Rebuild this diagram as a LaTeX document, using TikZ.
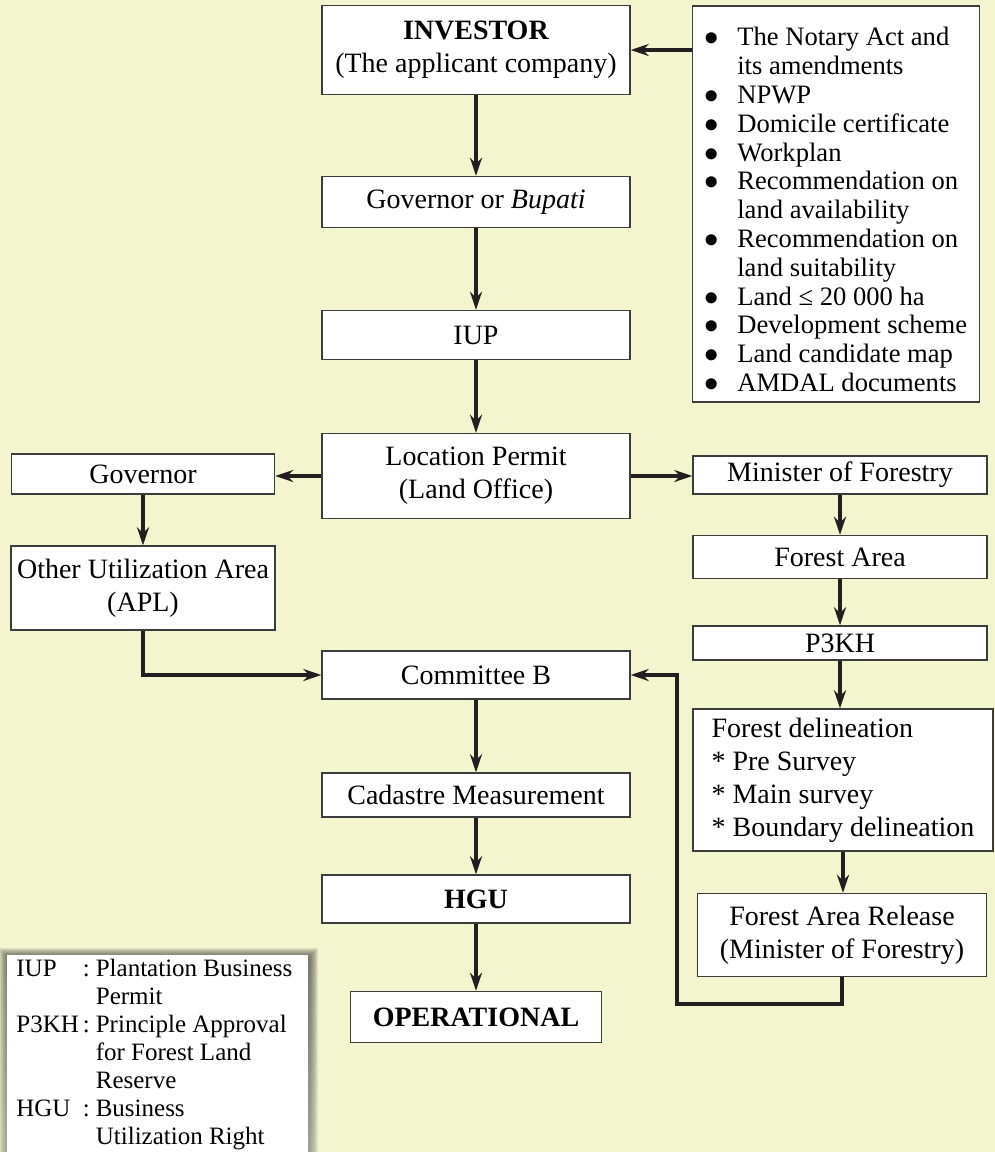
\documentclass[tikz,border=0pt]{standalone}
\usepackage{fontspec}
\setmainfont{Liberation Serif}
\usepackage{xcolor}
\usetikzlibrary{arrows.meta}
\definecolor{paper}{RGB}{243,245,207}
\definecolor{boxline}{RGB}{60,60,60}
\definecolor{ink}{RGB}{35,31,32}
\definecolor{shade}{RGB}{110,110,70}

\begin{document}
\begin{tikzpicture}[x=0.5pt,y=-0.5pt,>={Stealth[length=9pt,width=6pt]},
  stage/.style={draw=boxline,fill=white,line width=0.7pt,minimum width=154pt,
    inner xsep=3pt,inner ysep=1pt,align=center,font=\fontsize{14}{16.5}\selectfont},
  arr/.style={->,draw=ink,line width=1.6pt}]
  \useasboundingbox[fill=paper] (0,0) rectangle (995,1152);

  % main column
  \node[stage,minimum height=44.5pt] (inv) at (476,50) {\textbf{INVESTOR}\\(The applicant company)};
  \node[stage,minimum height=25.5pt] (gob) at (476,202) {Governor or \textit{Bupati}};
  \node[stage,minimum height=24.5pt] (iup) at (476,335) {IUP};
  \node[stage,minimum height=42.5pt] (loc) at (476,476) {Location Permit\\(Land Office)};
  \node[stage,minimum height=24pt]   (comb) at (476,675) {Committee B};
  \node[stage,minimum height=22pt]   (cad) at (476,795) {Cadastre Measurement};
  \node[stage,minimum height=24pt]   (hgu) at (476,899) {\textbf{HGU}};
  \node[stage,minimum width=125.5pt,minimum height=25.5pt] (op) at (476,1017) {\textbf{OPERATIONAL}};

  % requirements
  \node[stage,minimum width=143.5pt,minimum height=198pt,font=\fontsize{13.3}{14.4}\selectfont] (req) at (836,204)
    {\begin{tabular}{@{}c@{\hspace{9pt}}l@{}}
      \rule{0pt}{19pt}$\bullet$ & The Notary Act and\\
                & its amendments\\
      $\bullet$ & NPWP\\
      $\bullet$ & Domicile certificate\\
      $\bullet$ & Workplan\\
      $\bullet$ & Recommendation on\\
                & land availability\\
      $\bullet$ & Recommendation on\\
                & land suitability\\
      $\bullet$ & Land ≤ 20 000 ha\\
      $\bullet$ & Development scheme\\
      $\bullet$ & Land candidate map\\
      $\bullet$ & AMDAL documents
    \end{tabular}};

  % left branch
  \node[stage,minimum width=131.5pt,minimum height=20pt] (gov) at (143,474) {Governor};
  \node[stage,minimum width=132pt,minimum height=42pt] (apl) at (143,588) {Other Utilization Area\\(APL)};

  % right branch
  \node[stage,minimum width=147pt,minimum height=19pt]   (mof) at (840,475) {Minister of Forestry};
  \node[stage,minimum width=147pt,minimum height=21.5pt] (fa) at (840,557) {Forest Area};
  \node[stage,minimum width=147pt,minimum height=17pt]   (p3kh) at (840,643) {P3KH};
  \node[stage,minimum width=150pt,minimum height=71pt,align=left] (fd) at (843,780)
    {Forest delineation\\* Pre Survey\\* Main survey\\* Boundary delineation};
  \node[stage,minimum width=144.5pt,minimum height=41.5pt] (far) at (842,935)
    {Forest Area Release\\(Minister of Forestry)};
  \coordinate (ret) at (677,1004);

  % connectors
  \draw[arr] (inv.east -| req.west) -- (inv.east);
  \draw[arr] (inv) -- (gob);
  \draw[arr] (gob) -- (iup);
  \draw[arr] (iup) -- (loc);
  \draw[arr] (loc.west) -- (loc.west -| gov.east);
  \draw[arr] (loc.east) -- (loc.east -| mof.west);
  \draw[arr] (gov) -- (apl);
  \draw[arr] (apl.south) |- (comb.west);
  \draw[arr] (mof) -- (fa);
  \draw[arr] (fa) -- (p3kh);
  \draw[arr] (p3kh.south) -- (p3kh.south |- fd.north);
  \draw[arr] (fd.south) -- (fd.south |- far.north);
  \draw[arr] (far.south) |- (ret) |- (comb.east);
  \draw[arr] (comb) -- (cad);
  \draw[arr] (cad) -- (hgu);
  \draw[arr] (hgu) -- (op);

  % key
  \foreach \s in {1,...,9}
    \fill[shade,opacity=0.06] ({7-\s+1},{955-\s+2}) rectangle ({308+\s+1},1170);
  \fill[white] (7,955) rectangle (308,1170);
  \node[anchor=north west,inner sep=0pt,font=\fontsize{12.5}{14}\selectfont] (key) at (16,956)
    {\begin{tabular}{@{}l@{\hspace{2pt}}l@{\hspace{3pt}}l@{}}
      IUP  & : & Plantation Business\\
           &   & Permit\\
      P3KH & : & Principle Approval\\
           &   & for Forest Land\\
           &   & Reserve\\
      HGU  & : & Business\\
           &   & Utilization Right
    \end{tabular}};
\end{tikzpicture}
\end{document}
